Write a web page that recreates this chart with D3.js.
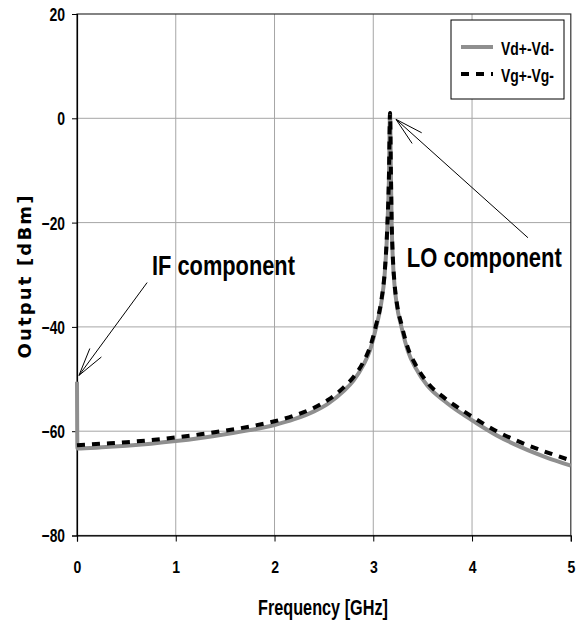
<!DOCTYPE html>
<html>
<head>
<meta charset="utf-8">
<script src="https://cdn.jsdelivr.net/npm/d3@7"></script>
<style>
body { margin: 0; background: #fff; }
text { font-family: "Liberation Sans", Arial, sans-serif; font-weight: bold; fill: #000; }
</style>
</head>
<body>
<div id="chart"></div>
<script>
var w = 576;
var h = 623;

// frequency [GHz] and output [dBm]
var vdFreq = [0, 0.004, 0.25, 0.5, 0.75, 1.0, 1.25, 1.5, 1.75, 2.0, 2.2, 2.4, 2.55, 2.7, 2.8, 2.9, 2.97, 3.03, 3.08, 3.115, 3.14, 3.158, 3.17, 3.178, 3.186, 3.198, 3.215, 3.24, 3.285, 3.35, 3.43, 3.545, 3.72, 3.885, 4.0, 4.25, 4.5, 4.75, 5.0];
var vdOut  = [-50.5, -63.3, -63.1, -62.8, -62.4, -61.9, -61.3, -60.6, -59.8, -58.8, -57.7, -56.2, -54.6, -52.3, -50.3, -47.3, -44.3, -40.0, -35.5, -30.0, -22.0, -12.0, 1.0, -10.0, -20.0, -27.0, -32.0, -36.0, -40.0, -44.6, -47.9, -51.2, -54.2, -56.5, -57.9, -60.8, -63.1, -65.0, -66.6];

var vgFreq = [0, 0.25, 0.5, 0.75, 1.0, 1.25, 1.5, 1.75, 2.0, 2.2, 2.4, 2.55, 2.7, 2.8, 2.9, 2.97, 3.03, 3.08, 3.115, 3.14, 3.158, 3.17, 3.178, 3.186, 3.198, 3.215, 3.24, 3.285, 3.35, 3.43, 3.545, 3.72, 3.885, 4.0, 4.25, 4.5, 4.75, 5.0];
var vgOut  = [-62.7, -62.4, -62.1, -61.7, -61.2, -60.6, -59.9, -59.1, -58.1, -57.0, -55.5, -53.9, -51.6, -49.6, -46.7, -43.7, -39.5, -35.1, -29.6, -21.6, -11.6, 1.0, -9.6, -19.6, -26.6, -31.6, -35.6, -39.5, -44.0, -47.3, -50.6, -53.6, -55.8, -57.2, -60.0, -62.2, -64.0, -65.6];

var xTicks = [0, 1, 2, 3, 4, 5];
var yTicks = [-80, -60, -40, -20, 0, 20];
var seriesNames = ["Vd+-Vd-", "Vg+-Vg-"];

// annotations: label, text start (f, dBm), arrow tail (f, dBm) and tip (f, dBm)
var noteLabels = ["IF component", "LO component"];
var noteText = [[0.76, -30.0], [3.34, -28.6]];
var noteArrows = [[0.71, -31.5, 0.02, -49.3], [4.566, -22.9, 3.23, -0.2]];

var mLeft = 77, mRight = 570.8, mTop = 14, mBottom = 535.5;

// narrow bold look: squeeze Liberation Sans to a given width
function squeeze(sel, width) {
    sel.attr("textLength", width).attr("lengthAdjust", "spacingAndGlyphs");
}
function tickWidth(s) {
    var n = 0;
    for (var i = 0; i < s.length; i++) n += s[i] === "-" ? 4.6 : 7.8;
    return n;
}
// same idea with a transform, so the box of the text is narrow too
function narrowText(x, y, size, str, width) {
    var t = svg.append("text")
        .attr("font-size", size + "px")
        .text(str);
    var k = width / t.node().getComputedTextLength();
    t.attr("transform", "translate(" + x + "," + y + ") scale(" + k + ",1)");
    return t;
}

var svg = d3.select("#chart")
    .append("svg")
    .attr("width", w)
    .attr("height", h);

var xScale = d3.scaleLinear().domain([0, 5]).range([mLeft, mRight]);
var yScale = d3.scaleLinear().domain([-80, 20]).range([mBottom, mTop]);

// grid
svg.selectAll("line.vgrid")
    .data(xTicks.slice(1, -1))
    .enter()
    .append("line")
    .attr("x1", function (d) { return xScale(d); })
    .attr("x2", function (d) { return xScale(d); })
    .attr("y1", mTop)
    .attr("y2", mBottom)
    .attr("stroke", "#a6a6a6")
    .attr("stroke-width", 1);

svg.selectAll("line.hgrid")
    .data(yTicks.slice(1, -1))
    .enter()
    .append("line")
    .attr("x1", mLeft)
    .attr("x2", mRight)
    .attr("y1", function (d) { return yScale(d); })
    .attr("y2", function (d) { return yScale(d); })
    .attr("stroke", "#a6a6a6")
    .attr("stroke-width", 1);

// frame
svg.append("rect")
    .attr("x", mLeft)
    .attr("y", mTop)
    .attr("width", mRight - mLeft)
    .attr("height", mBottom - mTop)
    .attr("fill", "none")
    .attr("stroke", "#333")
    .attr("stroke-width", 1.2);

//code for axis
var xAxis = d3.axisBottom(xScale).tickValues(xTicks).tickSize(6).tickFormat(d3.format("d"));
var yAxis = d3.axisLeft(yScale).tickValues(yTicks).tickSize(5).tickFormat(d3.format("d"));

var gx = svg.append("g")
    .attr("transform", "translate(0," + mBottom + ")")
    .call(xAxis);
gx.select(".domain").attr("stroke", "#000").attr("stroke-width", 1.2);
gx.selectAll(".tick line").attr("stroke", "#000");
gx.selectAll("text")
    .attr("font-size", "17px").attr("dy", null).attr("y", 37)
    .attr("font-family", "'Liberation Sans', Arial, sans-serif").attr("font-weight", "bold").attr("fill", "#000")
    .each(function () { squeeze(d3.select(this), tickWidth(this.textContent)); });

var gy = svg.append("g")
    .attr("transform", "translate(" + mLeft + ",0)")
    .call(yAxis);
gy.select(".domain").attr("stroke", "#000").attr("stroke-width", 1.2);
gy.selectAll(".tick line").attr("stroke", "#000");
gy.selectAll("text")
    .attr("font-size", "18px").attr("x", -12).attr("dy", "0.36em")
    .attr("font-family", "'Liberation Sans', Arial, sans-serif").attr("font-weight", "bold").attr("fill", "#000")
    .each(function () { squeeze(d3.select(this), tickWidth(this.textContent)); });
//end code for axis

narrowText(258, 615, 22, "Frequency [GHz]", 130);

svg.append("text")
    .attr("transform", "translate(31,277) rotate(-90)")
    .attr("text-anchor", "middle")
    .attr("font-size", "18px")
    .style("font-family", "'DejaVu Sans', Verdana, sans-serif")
    .attr("textLength", 163)
    .attr("lengthAdjust", "spacing")
    .text("Output [dBm]");

// curves
var line = d3.line()
    .x(function (d) { return xScale(d[0]); })
    .y(function (d) { return yScale(d[1]); })
    .curve(d3.curveMonotoneX);

var vdData = d3.zip(vdFreq, vdOut);
var vgData = d3.zip(vgFreq, vgOut);

svg.append("path")
    .datum(vdData)
    .attr("d", line)
    .attr("fill", "none")
    .attr("stroke", "#8f8f8f")
    .attr("stroke-width", 4);

svg.append("path")
    .datum(vgData)
    .attr("d", line)
    .attr("fill", "none")
    .attr("stroke", "#000")
    .attr("stroke-width", 4)
    .attr("stroke-dasharray", "8,7");

// annotations
var noteWidths = [143, 155];
noteLabels.forEach(function (lab, i) {
    narrowText(xScale(noteText[i][0]), yScale(noteText[i][1]), 28, lab, noteWidths[i]);

    var a = noteArrows[i];
    var x0 = xScale(a[0]), y0 = yScale(a[1]), x1 = xScale(a[2]), y1 = yScale(a[3]);
    svg.append("line")
        .attr("x1", x0).attr("y1", y0).attr("x2", x1).attr("y2", y1)
        .attr("stroke", "#000").attr("stroke-width", 1);
    var ang = Math.atan2(y0 - y1, x0 - x1);
    [-0.25, 0.25].forEach(function (da) {
        svg.append("line")
            .attr("x1", x1).attr("y1", y1)
            .attr("x2", x1 + 29 * Math.cos(ang + da))
            .attr("y2", y1 + 29 * Math.sin(ang + da))
            .attr("stroke", "#000").attr("stroke-width", 1);
    });
});

// legend
var legend = svg.append("g");
legend.append("rect")
    .attr("x", 451).attr("y", 20)
    .attr("width", 113).attr("height", 79)
    .attr("fill", "#fff")
    .attr("stroke", "#000")
    .attr("stroke-width", 1);

legend.selectAll("line")
    .data(seriesNames)
    .enter()
    .append("line")
    .attr("x1", 461).attr("x2", 493)
    .attr("y1", function (d, i) { return 47 + i * 27; })
    .attr("y2", function (d, i) { return 47 + i * 27; })
    .attr("stroke", function (d, i) { return i ? "#000" : "#8f8f8f"; })
    .attr("stroke-width", 4)
    .attr("stroke-dasharray", function (d, i) { return i ? "8,7" : null; });

seriesNames.forEach(function (d, i) {
    narrowText(501, 55 + i * 27, 18, d, 53);
});
</script>
</body>
</html>
